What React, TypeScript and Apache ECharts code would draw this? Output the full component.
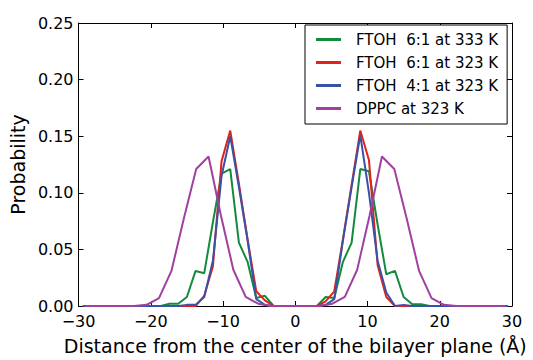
import React, { useEffect, useRef } from "react";
import * as echarts from "echarts";

// Bin centres (Å) for the FTOH histograms
const ftohX = [
  -29.4, -28.2, -27.0, -25.8, -24.6, -23.4, -22.2, -21.0, -19.8, -18.6,
  -17.4, -16.2, -15.0, -13.8, -12.6, -11.4, -10.2, -9.0, -7.8, -6.6,
  -5.4, -4.2, -3.0, -1.8, -0.6, 0.6, 1.8, 3.0, 4.2, 5.4,
  6.6, 7.8, 9.0, 10.2, 11.4, 12.6, 13.8, 15.0, 16.2, 17.4,
  18.6, 19.8, 21.0, 22.2, 23.4, 24.6, 25.8, 27.0, 28.2, 29.4,
];

const ftoh61_333 = [
  0, 0, 0, 0, 0, 0, 0, 0, 0, 0,
  0.002, 0.002, 0.008, 0.031, 0.029, 0.074, 0.117, 0.121, 0.056, 0.039,
  0.007, 0.009, 0, 0, 0, 0, 0, 0, 0.008, 0.007,
  0.039, 0.056, 0.121, 0.119, 0.072, 0.028, 0.031, 0.008, 0.0015, 0.0015,
  0, 0, 0, 0, 0, 0, 0, 0, 0, 0,
];

const ftoh61_323 = [
  0, 0, 0, 0, 0, 0, 0, 0, 0, 0,
  0, 0, 0, 0, 0.009, 0.035, 0.128, 0.155, 0.108, 0.059,
  0.013, 0.005, 0, 0, 0, 0, 0, 0, 0.004, 0.013,
  0.059, 0.107, 0.155, 0.129, 0.036, 0.008, 0, 0, 0, 0,
  0, 0, 0, 0, 0, 0, 0, 0, 0, 0,
];

const ftoh41_323 = [
  0, 0, 0, 0, 0, 0, 0, 0, 0, 0,
  0, 0, 0.001, 0.001, 0.008, 0.04, 0.115, 0.15, 0.105, 0.058,
  0.006, 0.001, 0, 0, 0, 0, 0, 0, 0.001, 0.006,
  0.058, 0.105, 0.151, 0.1, 0.04, 0.012, 0, 0.001, 0, 0,
  0, 0, 0, 0, 0, 0, 0, 0, 0, 0,
];

// Bin centres (Å) for the DPPC histogram
const dppcX = [
  -29.14, -27.43, -25.71, -24.0, -22.29, -20.57, -18.86, -17.14, -15.43, -13.71,
  -12.0, -10.29, -8.57, -6.86, -5.14, -3.43, -1.71, 0, 1.71, 3.43,
  5.14, 6.86, 8.57, 10.29, 12.0, 13.71, 15.43, 17.14, 18.86, 20.57,
  22.29, 24.0, 25.71, 27.43, 29.14,
];

const dppc323 = [
  0, 0, 0, 0, 0, 0.001, 0.007, 0.031, 0.077, 0.121,
  0.132, 0.08, 0.032, 0.008, 0.002, 0, 0, 0, 0, 0,
  0.002, 0.008, 0.032, 0.08, 0.132, 0.121, 0.077, 0.031, 0.007, 0.001,
  0, 0, 0, 0, 0,
];

const seriesNames = [
  "FTOH  6:1 at 333 K",
  "FTOH  6:1 at 323 K",
  "FTOH  4:1 at 323 K",
  "DPPC at 323 K",
];
const seriesColors = ["#148a3c", "#e3211c", "#3a52a6", "#a040a0"];

const xTitle = "Distance from the center of the bilayer plane (Å)";
const yTitle = "Probability";

const FONT = "DejaVu Sans";

function pairs(xs: number[], ys: number[]) {
  return xs.map((x, i) => [x, ys[i]]);
}

export default function App() {
  const ref = useRef<HTMLDivElement>(null);

  useEffect(() => {
    if (!ref.current) return;
    const chart = echarts.init(ref.current, null, { renderer: "svg" });
    const datasets = [
      pairs(ftohX, ftoh61_333),
      pairs(ftohX, ftoh61_323),
      pairs(ftohX, ftoh41_323),
      pairs(dppcX, dppc323),
    ];
    const axisLine = { show: true, onZero: false, lineStyle: { color: "#000", width: 1 } };
    const tick = { show: true, inside: true, length: 5, lineStyle: { color: "#000" } };
    chart.setOption({
      animation: false,
      backgroundColor: "#fff",
      grid: { left: 78, right: 21, top: 23, bottom: 48, containLabel: false },
      legend: {
        orient: "vertical",
        left: 305,
        top: 25,
        padding: [7, 9, 8, 11],
        itemGap: 8,
        itemWidth: 25,
        itemHeight: 3,
        icon: "rect",
        borderColor: "#000",
        borderWidth: 1,
        backgroundColor: "#fff",
        textStyle: { fontFamily: FONT, fontSize: 15, color: "#000", padding: [0, 0, 0, 10] },
        data: seriesNames,
      },
      xAxis: [
        {
          type: "value",
          min: -30,
          max: 30,
          interval: 10,
          position: "bottom",
          axisLine,
          axisTick: tick,
          splitLine: { show: false },
          axisLabel: {
            fontFamily: FONT,
            fontSize: 16,
            color: "#000",
            margin: 7,
            formatter: (v: number) => String(v).replace("-", "\u2212"),
          },
          name: xTitle,
          nameLocation: "middle",
          nameGap: 30,
          nameTextStyle: { fontFamily: FONT, fontSize: 19, color: "#000" },
        },
        {
          type: "value",
          min: -30,
          max: 30,
          interval: 10,
          position: "top",
          axisLine,
          axisTick: tick,
          splitLine: { show: false },
          axisLabel: { show: false },
        },
      ],
      yAxis: [
        {
          type: "value",
          min: 0,
          max: 0.25,
          interval: 0.05,
          position: "left",
          axisLine,
          axisTick: tick,
          splitLine: { show: false },
          axisLabel: {
            fontFamily: FONT,
            fontSize: 16,
            color: "#000",
            margin: 5,
            formatter: (v: number) => v.toFixed(2),
          },
          name: yTitle,
          nameLocation: "middle",
          nameGap: 45,
          nameTextStyle: { fontFamily: FONT, fontSize: 19, color: "#000" },
        },
        {
          type: "value",
          min: 0,
          max: 0.25,
          interval: 0.05,
          position: "right",
          axisLine,
          axisTick: tick,
          splitLine: { show: false },
          axisLabel: { show: false },
        },
      ],
      series: datasets.map((d, i) => ({
        name: seriesNames[i],
        type: "line",
        data: d,
        xAxisIndex: 0,
        yAxisIndex: 0,
        showSymbol: false,
        symbol: "none",
        lineStyle: { width: 2, color: seriesColors[i] },
        itemStyle: { color: seriesColors[i] },
        clip: true,
      })),
    });
    return () => chart.dispose();
  }, []);

  return (
    <div
      ref={ref}
      style={{ position: "fixed", left: 0, top: 0, width: 533, height: 360 }}
    />
  );
}
